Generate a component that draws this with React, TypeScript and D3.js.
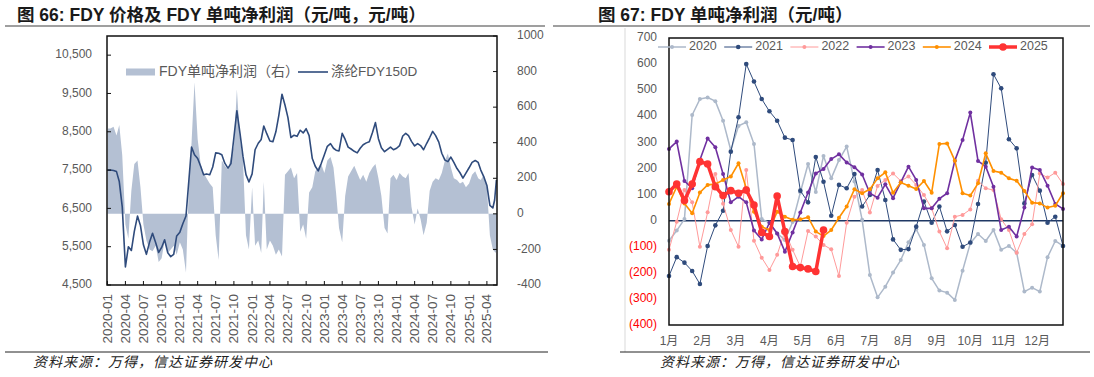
import React from "react";
import * as d3 from "d3";

// ---------- Left chart data (Figure 66) ----------
const priceData: [string, number][] = [
  ["2020-01-01", 7500], ["2020-01-16", 7500], ["2020-02-01", 7490], ["2020-02-16", 7460],
  ["2020-03-01", 7200], ["2020-03-16", 6540], ["2020-04-01", 4970], ["2020-04-16", 5500],
  ["2020-05-01", 5400], ["2020-05-16", 5900], ["2020-06-01", 6300], ["2020-06-16", 6050],
  ["2020-07-01", 5550], ["2020-07-16", 5300], ["2020-08-01", 5620], ["2020-08-16", 5850],
  ["2020-09-01", 5600], ["2020-09-16", 5350], ["2020-10-01", 5480], ["2020-10-16", 5680],
  ["2020-11-01", 5340], ["2020-11-16", 5240], ["2020-12-01", 5300], ["2020-12-16", 5780],
  ["2021-01-01", 5880], ["2021-01-16", 6100], ["2021-02-01", 6300], ["2021-02-16", 7260],
  ["2021-03-01", 8100], ["2021-03-16", 7900], ["2021-04-01", 7800], ["2021-04-16", 7600],
  ["2021-05-01", 7380], ["2021-05-16", 7400], ["2021-06-01", 7380], ["2021-06-16", 7580],
  ["2021-07-01", 7950], ["2021-07-16", 7940], ["2021-08-01", 7900], ["2021-08-16", 7680],
  ["2021-09-01", 7550], ["2021-09-16", 7670], ["2021-10-01", 8350], ["2021-10-16", 9050],
  ["2021-11-01", 8450], ["2021-11-16", 7850], ["2021-12-01", 7380], ["2021-12-16", 7190],
  ["2022-01-01", 7400], ["2022-01-16", 8030], ["2022-02-01", 8200], ["2022-02-16", 8300],
  ["2022-03-01", 8650], ["2022-03-16", 8450], ["2022-04-01", 8260], ["2022-04-16", 8240],
  ["2022-05-01", 8500], ["2022-05-16", 8930], ["2022-06-01", 9480], ["2022-06-16", 9200],
  ["2022-07-01", 8870], ["2022-07-16", 8350], ["2022-08-01", 8410], ["2022-08-16", 8380],
  ["2022-09-01", 8540], ["2022-09-16", 8470], ["2022-10-01", 8580], ["2022-10-16", 8400],
  ["2022-11-01", 7800], ["2022-11-16", 7600], ["2022-12-01", 7480], ["2022-12-16", 7670],
  ["2023-01-01", 7900], ["2023-01-16", 8120], ["2023-02-01", 8190], ["2023-02-16", 8070],
  ["2023-03-01", 8020], ["2023-03-16", 8000], ["2023-04-01", 8460], ["2023-04-16", 8300],
  ["2023-05-01", 8100], ["2023-05-16", 8050], ["2023-06-01", 7990], ["2023-06-16", 7950],
  ["2023-07-01", 8070], ["2023-07-16", 8160], ["2023-08-01", 8210], ["2023-08-16", 8240],
  ["2023-09-01", 8480], ["2023-09-16", 8740], ["2023-10-01", 8320], ["2023-10-16", 8080],
  ["2023-11-01", 7980], ["2023-11-16", 8040], ["2023-12-01", 8100], ["2023-12-16", 8030],
  ["2024-01-01", 8070], ["2024-01-16", 8140], ["2024-02-01", 8390], ["2024-02-16", 8460],
  ["2024-03-01", 8400], ["2024-03-16", 8250], ["2024-04-01", 8130], ["2024-04-16", 8190],
  ["2024-05-01", 8140], ["2024-05-16", 8030], ["2024-06-01", 8200], ["2024-06-16", 8350],
  ["2024-07-01", 8510], ["2024-07-16", 8400], ["2024-08-01", 8230], ["2024-08-16", 7940],
  ["2024-09-01", 7760], ["2024-09-16", 7720], ["2024-10-01", 7840], ["2024-10-16", 7700],
  ["2024-11-01", 7540], ["2024-11-16", 7430], ["2024-12-01", 7290], ["2024-12-16", 7420],
  ["2025-01-01", 7560], ["2025-01-16", 7700], ["2025-02-01", 7750], ["2025-02-16", 7700],
  ["2025-03-01", 7500], ["2025-03-16", 7330], ["2025-04-01", 7100], ["2025-04-16", 6580],
  ["2025-05-01", 6510], ["2025-05-10", 6720], ["2025-05-19", 7240],
];

const profitData: [string, number][] = [
  ["2020-01-01", -120], ["2020-01-04", 480], ["2020-01-16", 480], ["2020-02-01", 490], ["2020-02-16", 440],
  ["2020-03-01", 500], ["2020-03-16", 330], ["2020-04-01", -60], ["2020-04-16", -140],
  ["2020-05-01", 130], ["2020-05-16", 280], ["2020-06-01", 300], ["2020-06-16", 150],
  ["2020-07-01", -60], ["2020-07-16", -150], ["2020-08-01", -200], ["2020-08-16", -210],
  ["2020-09-01", -180], ["2020-09-16", -270], ["2020-10-01", -250], ["2020-10-16", -150],
  ["2020-11-01", -220], ["2020-11-16", -200], ["2020-12-01", -180], ["2020-12-16", -230],
  ["2021-01-01", -160], ["2021-01-16", -200], ["2021-02-01", -330], ["2021-02-16", 180],
  ["2021-03-01", 400], ["2021-03-16", 740], ["2021-04-01", 420], ["2021-04-16", 280],
  ["2021-05-01", 230], ["2021-05-16", 200], ["2021-06-01", 170], ["2021-06-16", 150],
  ["2021-07-01", -120], ["2021-07-16", -260], ["2021-08-01", 300], ["2021-08-16", 270],
  ["2021-09-01", 250], ["2021-09-16", 320], ["2021-10-01", 380], ["2021-10-16", 700],
  ["2021-11-01", 420], ["2021-11-16", 300], ["2021-12-01", -120], ["2021-12-16", -200],
  ["2022-01-01", 150], ["2022-01-16", -180], ["2022-02-01", -150], ["2022-02-16", -220],
  ["2022-03-01", 180], ["2022-03-16", -200], ["2022-04-01", -150], ["2022-04-16", -180],
  ["2022-05-01", -230], ["2022-05-16", -200], ["2022-06-01", -240], ["2022-06-16", 220],
  ["2022-07-01", 240], ["2022-07-16", 260], ["2022-08-01", 200], ["2022-08-16", 230],
  ["2022-09-01", -100], ["2022-09-16", -60], ["2022-10-01", -140], ["2022-10-16", 120],
  ["2022-11-01", 150], ["2022-11-16", 240], ["2022-12-01", 260], ["2022-12-16", 280],
  ["2023-01-01", 230], ["2023-01-16", 300], ["2023-02-01", 320], ["2023-02-16", 260],
  ["2023-03-01", 120], ["2023-03-16", -80], ["2023-04-01", -160], ["2023-04-16", 100],
  ["2023-05-01", 210], ["2023-05-16", 240], ["2023-06-01", 270], ["2023-06-16", 230],
  ["2023-07-01", 190], ["2023-07-16", 220], ["2023-08-01", 180], ["2023-08-16", 230],
  ["2023-09-01", 260], ["2023-09-16", 280], ["2023-10-01", 200], ["2023-10-16", 100],
  ["2023-11-01", -80], ["2023-11-16", -110], ["2023-12-01", 200], ["2023-12-16", 220],
  ["2024-01-01", 190], ["2024-01-16", 230], ["2024-02-01", 210], ["2024-02-16", 200],
  ["2024-03-01", 230], ["2024-03-16", 40], ["2024-04-01", -60], ["2024-04-16", 30],
  ["2024-05-01", -30], ["2024-05-16", -120], ["2024-06-01", -50], ["2024-06-16", 130],
  ["2024-07-01", 180], ["2024-07-16", 200], ["2024-08-01", 190], ["2024-08-16", 230],
  ["2024-09-01", 300], ["2024-09-16", 340], ["2024-10-01", 260], ["2024-10-16", 200],
  ["2024-11-01", 190], ["2024-11-16", 170], ["2024-12-01", 180], ["2024-12-16", 150],
  ["2025-01-01", 170], ["2025-01-16", 220], ["2025-02-01", 240], ["2025-02-16", 200],
  ["2025-03-01", 190], ["2025-03-16", 220], ["2025-04-01", 150], ["2025-04-16", -120],
  ["2025-05-01", -200], ["2025-05-16", -220], ["2025-05-21", -180],
];

const dateTickLabels = [
  "2020-01", "2020-04", "2020-07", "2020-10", "2021-01", "2021-04", "2021-07", "2021-10",
  "2022-01", "2022-04", "2022-07", "2022-10", "2023-01", "2023-04", "2023-07", "2023-10",
  "2024-01", "2024-04", "2024-07", "2024-10", "2025-01", "2025-04",
];
const priceTicks = [4500, 5500, 6500, 7500, 8500, 9500, 10500];
const profitTicks = [-400, -200, 0, 200, 400, 600, 800, 1000];

// ---------- Right chart data (Figure 67), weekly ----------
const monthLabels = ["1月", "2月", "3月", "4月", "5月", "6月", "7月", "8月", "9月", "10月", "11月", "12月"];
const weeklyTicks = [700, 600, 500, 400, 300, 200, 100, 0, -100, -200, -300, -400];

const y2020 = [-77, -38, 6, 405, 466, 472, 458, 383, 270, 363, 377, 294, 6, -8, -49, -74, -5, 108, 217, 110, 248, 162, 232, 284, 150, 3, -208, -294, -253, -199, -151, -83, -33, -93, -221, -268, -276, -304, -192, -87, -51, -78, -36, -112, -97, -123, -272, -257, -272, -140, -78, -97];
const y2021 = [-212, -140, -161, -193, -243, -97, -18, 38, 264, 396, 600, 533, 466, 419, 383, 318, 309, 115, 70, 244, 149, 19, 137, 124, 179, 54, 98, 194, 79, -72, -112, -109, -23, 73, -8, 54, -41, -17, -100, -84, 64, 222, 561, 507, 312, 277, 66, 175, 115, -8, 15, -97];
const y2022 = [-112, -4, 117, 70, -100, 32, 179, 65, -36, -100, 194, -77, -142, -189, -131, -40, -112, -176, -40, -61, -93, -110, -212, -8, 92, 117, 31, 133, 156, 181, 152, 169, 137, 98, 47, -42, -106, 15, 22, 43, 153, 124, 117, 5, -36, -123, -51, -14, 181, 165, 184, 140];
const y2023 = [275, 303, 152, 124, 232, 315, 281, 179, 70, 92, 70, -38, -72, -8, -49, -119, -45, 31, 108, 181, 198, 236, 254, 223, 205, 177, 105, 88, 139, 86, 147, 207, 156, 47, 47, 84, 105, 230, 309, 414, 229, 207, 130, -36, -23, -61, 50, 204, 194, 134, 64, 45];
const y2024 = [64, 130, 66, 28, 108, 137, 140, 156, 169, 220, 124, 34, -23, -36, 34, 15, 3, 5, 13, -42, -59, -36, 11, 54, 120, 105, 120, 162, 185, 107, 146, 134, 121, 152, 107, 294, 296, 230, 105, 96, 143, 258, 190, 184, 162, 153, 114, 69, 66, 50, 57, 105];
const y2025 = [111, 140, 77, 140, 226, 217, 130, 96, 115, 105, 117, 60, -45, -61, 94, -42, -176, -180, -185, -195, -36];

const seriesList = [
  { name: "2020", values: y2020, color: "#adb9ca", width: 1.5, r: 2 },
  { name: "2021", values: y2021, color: "#2f4b7c", width: 1, r: 2.3 },
  { name: "2022", values: y2022, color: "#ff9a9a", width: 1, r: 2 },
  { name: "2023", values: y2023, color: "#7030a0", width: 1.6, r: 2 },
  { name: "2024", values: y2024, color: "#ff9000", width: 1.6, r: 2 },
  { name: "2025", values: y2025, color: "#ff3333", width: 3.5, r: 3.8 },
];

const GRAY = "#595959";
const SANS = "'Liberation Sans', Arial, 'Noto Sans CJK SC', sans-serif";
const CJK = "'Liberation Sans', 'Noto Sans CJK SC', sans-serif";

export default function App() {
  const parse = d3.timeParse("%Y-%m-%d");
  const parseM = d3.timeParse("%Y-%m");

  // Left chart scales
  const L = { left: 107, right: 497, top: 36, bottom: 285 };
  const xL = d3.scaleTime().domain([parse("2019-12-30")!, parse("2025-05-22")!]).range([L.left, L.right]);
  const yPrice = d3.scaleLinear().domain([4500, 11000]).range([L.bottom, L.top]);
  const yProfit = d3.scaleLinear().domain([-400, 1000]).range([L.bottom, L.top]);
  const priceLine = d3.line<[string, number]>()
    .x(d => xL(parse(d[0])!))
    .y(d => yPrice(d[1]));
  const profitArea = d3.area<[string, number]>()
    .x(d => xL(parse(d[0])!))
    .y0(yProfit(0))
    .y1(d => yProfit(d[1]));

  // Right chart scales
  const R = { left: 669, right: 1063, top: 38, bottom: 325 };
  const xW = d3.scaleLinear().domain([0, 51]).range([R.left, R.right]);
  const yW = d3.scaleLinear().domain([-400, 700]).range([R.bottom, R.top]);
  const wLine = d3.line<number>().x((_, i) => xW(i)).y(v => yW(v));

  const fmtComma = d3.format(",");
  const fmtParen = (v: number) => (v < 0 ? `(${Math.abs(v)})` : `${v}`);

  return (
    <svg width={1094} height={377} style={{ position: "absolute", left: 0, top: 0, background: "#fff" }}>
      <rect x={0} y={0} width={1094} height={377} fill="#fff" />
      {/* Titles */}
      <text x={17} y={21} fontFamily={CJK} fontWeight="bold" fontSize={17.5} fill="#1a1a1a">
        图 66:  FDY 价格及 FDY 单吨净利润（元/吨，元/吨）
      </text>
      <text x={598} y={21} fontFamily={CJK} fontWeight="bold" fontSize={17.5} fill="#1a1a1a">
        图 67:  FDY 单吨净利润（元/吨）
      </text>
      <line x1={5} x2={545} y1={26} y2={26} stroke="#7f7f7f" strokeWidth={1.5} />
      <line x1={553} x2={1090} y1={26} y2={26} stroke="#7f7f7f" strokeWidth={1.5} />
      <line x1={625} x2={625} y1={28} y2={352} stroke="#d9d9d9" strokeWidth={1} />
      <line x1={5} x2={548} y1={352} y2={352} stroke="#222" strokeWidth={1} />
      <line x1={620} x2={1090} y1={352} y2={352} stroke="#222" strokeWidth={1} />
      <text x={33} y={367} fontFamily={CJK} fontStyle="italic" fontSize={14} letterSpacing={1} fill="#222">
        资料来源：万得，信达证券研发中心
      </text>
      <text x={660} y={367} fontFamily={CJK} fontStyle="italic" fontSize={14} letterSpacing={1} fill="#222">
        资料来源：万得，信达证券研发中心
      </text>

      {/* ---------- Left chart ---------- */}
      <g>
        <path d={profitArea(profitData) || ""} fill="#b4c0d3" stroke="none" />
        <path d={priceLine(priceData) || ""} fill="none" stroke="#2f4b7c" strokeWidth={1.6} strokeLinejoin="round" />
        <rect x={L.left} y={L.top} width={L.right - L.left} height={L.bottom - L.top} fill="none" stroke="#111" strokeWidth={1.5} />
        {priceTicks.map(t => (
          <g key={t}>
            <line x1={L.left} x2={L.left + 4} y1={yPrice(t)} y2={yPrice(t)} stroke="#111" strokeWidth={1} />
            <text x={92} y={yPrice(t)} textAnchor="end" dominantBaseline="middle" fontFamily={SANS} fontSize={12} fill={GRAY}>
              {fmtComma(t)}
            </text>
          </g>
        ))}
        {profitTicks.map(t => (
          <g key={t}>
            <line x1={L.right - 4} x2={L.right} y1={yProfit(t)} y2={yProfit(t)} stroke="#111" strokeWidth={1} />
            <text x={517} y={yProfit(t)} textAnchor="start" dominantBaseline="middle" fontFamily={SANS} fontSize={12} fill={GRAY}>
              {t}
            </text>
          </g>
        ))}
        {dateTickLabels.map(lbl => {
          const x = xL(parseM(lbl)!);
          return (
            <g key={lbl}>
              <line x1={x} x2={x} y1={L.bottom - 4} y2={L.bottom} stroke="#111" strokeWidth={1} />
              <text transform={`translate(${x + 4.5},${294}) rotate(-90)`} textAnchor="end" fontFamily={SANS} fontSize={13.5} fill={GRAY}>
                {lbl}
              </text>
            </g>
          );
        })}
        {/* Legend */}
        <rect x={126} y={68.5} width={29} height={7} fill="#b4c0d3" />
        <text x={159} y={72} dominantBaseline="middle" fontFamily={CJK} fontSize={14} fill={GRAY}>
          FDY单吨净利润（右）
        </text>
        <line x1={298} x2={328} y1={72} y2={72} stroke="#2f4b7c" strokeWidth={1.6} />
        <text x={331} y={72} dominantBaseline="middle" fontFamily={CJK} fontSize={13.5} fill={GRAY}>
          涤纶FDY150D
        </text>
      </g>

      {/* ---------- Right chart ---------- */}
      <g>
        <line x1={R.left} x2={R.right} y1={yW(0)} y2={yW(0)} stroke="#1f3864" strokeWidth={1.5} />
        {seriesList.map(s => (
          <g key={s.name}>
            <path d={wLine(s.values) || ""} fill="none" stroke={s.color} strokeWidth={s.width} strokeLinejoin="round" />
            {s.values.map((v, i) => (
              <circle key={i} cx={xW(i)} cy={yW(v)} r={s.r} fill={s.color} />
            ))}
          </g>
        ))}
        <rect x={R.left} y={R.top} width={R.right - R.left} height={R.bottom - R.top} fill="none" stroke="#111" strokeWidth={1.5} />
        {weeklyTicks.map(t => (
          <text key={t} x={657} y={yW(t)} textAnchor="end" dominantBaseline="middle" fontFamily={SANS} fontSize={12} fill={t < 0 ? "#ff0000" : GRAY}>
            {fmtParen(t)}
          </text>
        ))}
        {monthLabels.map((m, i) => (
          <text key={m} x={xW((i * 52) / 12)} y={342} textAnchor="middle" dominantBaseline="middle" fontFamily={CJK} fontSize={12} fill={GRAY}>
            {m}
          </text>
        ))}
        {/* Legend */}
        {seriesList.map((s, i) => {
          const x0 = 658 + i * 66.2;
          return (
            <g key={s.name}>
              <line x1={x0} x2={x0 + 28} y1={47} y2={47} stroke={s.color} strokeWidth={s.width} />
              <circle cx={x0 + 14} cy={47} r={s.r} fill={s.color} />
              <text x={x0 + 31} y={47} dominantBaseline="middle" fontFamily={SANS} fontSize={12.5} fill={GRAY}>
                {s.name}
              </text>
            </g>
          );
        })}
      </g>
    </svg>
  );
}
